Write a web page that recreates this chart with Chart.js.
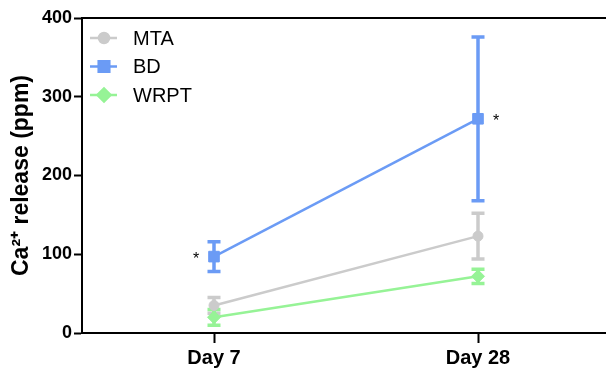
<!DOCTYPE html>
<html>
<head>
<meta charset="utf-8">
<script src="https://cdn.jsdelivr.net/npm/chart.js@4.4.1/dist/chart.umd.min.js"></script>
<style>
  html, body { margin: 0; padding: 0; background: #fff; overflow: hidden; }
</style>
</head>
<body>
<canvas id="chart" width="610" height="373"></canvas>
<script>
// data
const days = ["Day 7", "Day 28"];
const mtaMean = [35, 123];
const mtaErr = [10, 29];
const bdMean = [97, 272];
const bdErr = [19, 104];
const wrptMean = [20, 72];
const wrptErr = [10, 9];
const yTicks = [0, 100, 200, 300, 400];

const seriesNames = ["MTA", "BD", "WRPT"];
const seriesColors = ["#cbcbcb", "#6b9bf5", "#96f396"];
const seriesStyles = ["circle", "rect", "rectRot"];
const seriesRadius = [5, 7.5, 6.5];

// asterisk marks: [category index, value, side]
const starMarks = [
  [0, 97, -1],
  [1, 272, 1]
];

const errors = [mtaErr, bdErr, wrptErr];

const FONT = "'Liberation Sans', Arial, sans-serif";

// error bars, top border, asterisks, legend
const extras = {
  id: "extras",
  beforeDatasetsDraw(chart) {
    const ctx = chart.ctx;
    const x = chart.scales.x;
    const y = chart.scales.y;
    ctx.save();
    chart.data.datasets.forEach((ds, i) => {
      ctx.strokeStyle = ds.borderColor;
      ctx.lineWidth = 3.5;
      ds.data.forEach((v, j) => {
        const px = x.getPixelForValue(j);
        const top = y.getPixelForValue(v + errors[i][j]);
        const bot = y.getPixelForValue(v - errors[i][j]);
        ctx.beginPath();
        ctx.moveTo(px, top);
        ctx.lineTo(px, bot);
        ctx.moveTo(px - 6.5, top);
        ctx.lineTo(px + 6.5, top);
        ctx.moveTo(px - 6.5, bot);
        ctx.lineTo(px + 6.5, bot);
        ctx.stroke();
      });
    });
    ctx.restore();
  },
  afterDraw(chart) {
    const ctx = chart.ctx;
    const area = chart.chartArea;
    const x = chart.scales.x;
    const y = chart.scales.y;
    ctx.save();

    // top frame line
    ctx.strokeStyle = "#000";
    ctx.lineWidth = 2;
    ctx.beginPath();
    ctx.moveTo(area.left - 1, area.top);
    ctx.lineTo(area.right, area.top);
    ctx.stroke();

    // asterisks
    ctx.fillStyle = "#000";
    ctx.font = "16px " + FONT;
    ctx.textAlign = "center";
    ctx.textBaseline = "middle";
    starMarks.forEach(s => {
      ctx.fillText(
        "*",
        x.getPixelForValue(s[0]) + s[2] * 18,
        y.getPixelForValue(s[1]) + 3
      );
    });

    // legend
    ctx.font = "20px " + FONT;
    ctx.textAlign = "left";
    seriesNames.forEach((name, i) => {
      const ly = area.top + 20 + i * 28.5;
      const lx = area.left + 8;
      ctx.strokeStyle = seriesColors[i];
      ctx.lineWidth = 2.5;
      ctx.beginPath();
      ctx.moveTo(lx, ly);
      ctx.lineTo(lx + 27, ly);
      ctx.stroke();
      Chart.helpers.drawPoint(ctx, {
        pointStyle: seriesStyles[i],
        radius: seriesRadius[i],
        rotation: 0,
        borderWidth: 1
      }, lx + 14, ly);
      ctx.fillStyle = seriesColors[i];
      ctx.fill();
      ctx.fillStyle = "#000";
      ctx.fillText(name, lx + 43, ly + 1);
    });
    ctx.restore();
  }
};

function makeDataset(i, values) {
  return {
    label: seriesNames[i],
    data: values,
    borderColor: seriesColors[i],
    backgroundColor: seriesColors[i],
    borderWidth: 2.5,
    pointStyle: seriesStyles[i],
    pointRadius: seriesRadius[i],
    pointBorderWidth: 1,
    tension: 0
  };
}

new Chart(document.getElementById("chart"), {
  type: "line",
  data: {
    labels: days,
    datasets: [
      makeDataset(0, mtaMean),
      makeDataset(1, bdMean),
      makeDataset(2, wrptMean)
    ]
  },
  options: {
    responsive: false,
    animation: false,
    layout: {
      autoPadding: false,
      padding: { top: 18, right: 0, left: 0, bottom: 0 }
    },
    plugins: {
      legend: { display: false },
      tooltip: { enabled: false }
    },
    scales: {
      x: {
        offset: true,
        grid: {
          display: true,
          drawOnChartArea: false,
          tickLength: 10,
          tickWidth: 2,
          tickColor: "#000",
          offset: false
        },
        border: { color: "#000", width: 2 },
        ticks: {
          color: "#000",
          padding: 3,
          font: { family: FONT, size: 20, weight: "bold" }
        }
      },
      y: {
        min: 0,
        max: 400,
        afterBuildTicks(axis) {
          axis.ticks = yTicks.map(v => ({ value: v }));
        },
        afterFit(axis) {
          axis.width = 82;
        },
        grid: {
          display: true,
          drawOnChartArea: false,
          tickLength: 8,
          tickWidth: 2,
          tickColor: "#000"
        },
        border: { color: "#000", width: 2 },
        ticks: {
          color: "#000",
          padding: 2,
          font: { family: FONT, size: 18, weight: "bold" }
        },
        title: {
          display: true,
          text: "Ca\u00B2\u207A release (ppm)",
          color: "#000",
          padding: { top: 8, bottom: 0 },
          font: { family: FONT, size: 23, weight: "bold" }
        }
      }
    }
  },
  plugins: [extras]
});
</script>
</body>
</html>
